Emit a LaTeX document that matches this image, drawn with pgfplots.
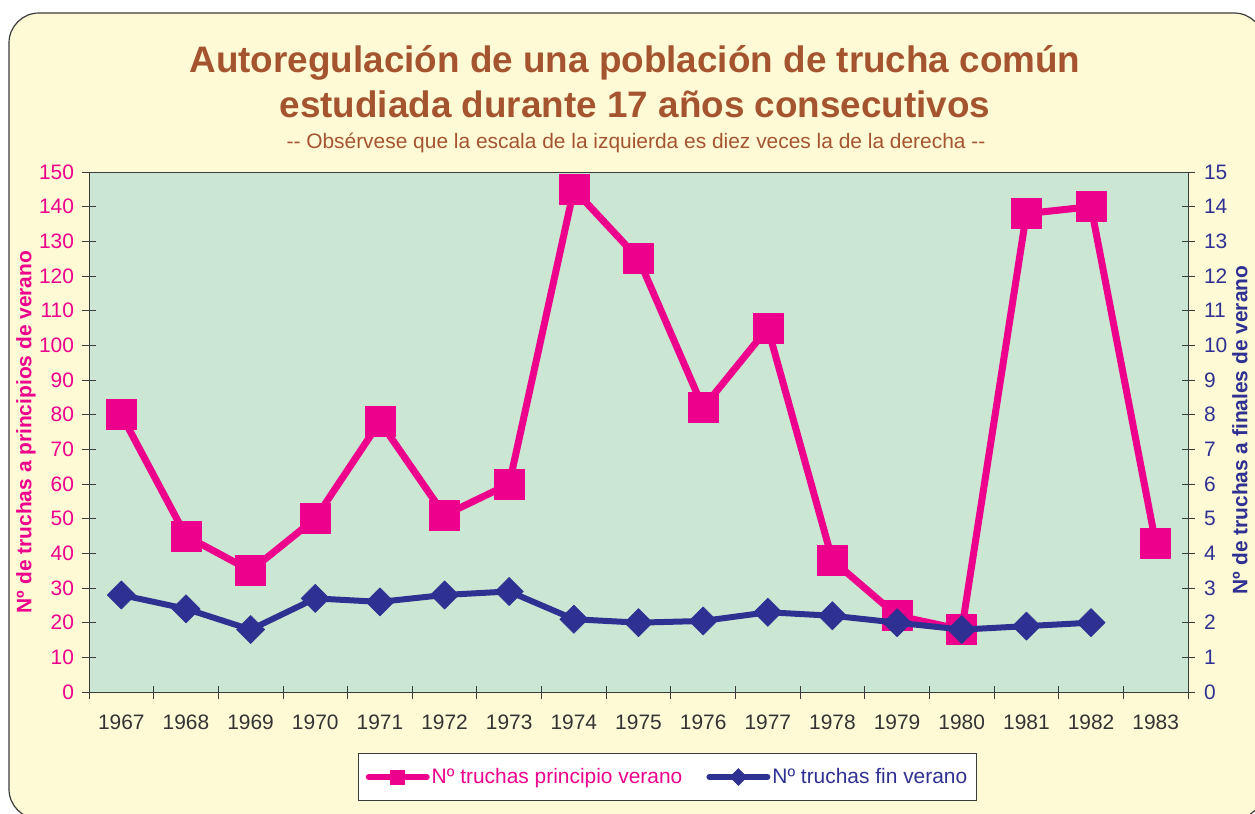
\documentclass[border=0pt]{standalone}
\usepackage{pgfplots}
\usepackage{pgfplotstable}
\pgfplotsset{compat=1.18}
\usepackage{fontspec}
\setmainfont{Liberation Sans}
\definecolor{bgc}{HTML}{FFFAD6}
\definecolor{plotbg}{HTML}{CCE6D4}
\definecolor{pinkc}{HTML}{EC008C}
\definecolor{bluec}{HTML}{2E3192}
\definecolor{titlec}{HTML}{A55430}
\definecolor{axisc}{HTML}{3C3C3C}
\definecolor{textc}{HTML}{333333}
\pgfplotstableread{
x y
0 80
1 45
2 35
3 50
4 78
5 51
6 60
7 145
8 125
9 82
10 105
11 38
12 22
13 18
14 138
15 140
16 43
}\pinkdata
\pgfplotstableread{
x y
0 2.8
1 2.4
2 1.8
3 2.7
4 2.6
5 2.8
6 2.9
7 2.1
8 2.0
9 2.05
10 2.3
11 2.2
12 2.0
13 1.8
14 1.9
15 2.0
}\bluedata
\pgfplotsset{
  common/.style={
    at={(89bp,-692bp)}, anchor=south west,
    width=1099bp, height=520bp, scale only axis,
    xmin=-0.5, xmax=16.5,
    /pgf/number format/assume math mode=true,
    tick align=center,
    major tick length=13bp, minor tick length=13bp,
    every tick/.style={draw=axisc, line width=0.8bp},
    axis line style={draw=axisc, line width=0.8bp},
    ticklabel style={font=\fontsize{21}{24}\selectfont},
  },
  pinkleg/.style={legend image code/.code={\draw[##1, line width=6bp, line cap=round, mark size=7bp, mark repeat=2, mark phase=2] plot coordinates {(0bp,0bp) (29bp,0bp) (58bp,0bp)};}},
  blueleg/.style={legend image code/.code={\draw[##1, line width=6bp, line cap=round, mark size=6bp, mark repeat=2, mark phase=2] plot coordinates {(0bp,0bp) (29bp,0bp) (58bp,0bp)};}},
}
\begin{document}
\begin{tikzpicture}
\useasboundingbox (0,0) rectangle (1255bp,-814bp);
\begin{scope}
\clip (0,0) rectangle (1255bp,-814bp);
\draw[rounded corners=30bp, draw=axisc, line width=1.2bp, fill=bgc] (9bp,-13bp) rectangle (1264bp,-819bp);
\end{scope}
\node[font=\fontsize{37}{44}\selectfont\bfseries, text=titlec] at (635bp,-63bp) {Autoregulación de una población de trucha común};
\node[font=\fontsize{37}{44}\selectfont\bfseries, text=titlec] at (635bp,-104bp) {estudiada durante 17 años consecutivos};
\node[font=\fontsize{21}{24}\selectfont, text=titlec] at (636bp,-143bp) {-{}- Obsérvese que la escala de la izquierda es diez veces la de la derecha -{}-};
\node[rotate=90, font=\fontsize{21}{24}\selectfont\bfseries, text=pinkc] at (26bp,-432bp) {Nº de truchas a principios de verano};
\node[rotate=90, font=\fontsize{21}{24}\selectfont\bfseries, text=bluec] at (1240bp,-430bp) {Nº de truchas a finales de verano};
\begin{axis}[common,
  ymin=0, ymax=150,
  axis background/.style={fill=plotbg},
  ytick={0,10,...,150},
  ytick pos=left, xtick pos=bottom,
  yticklabel style={text=pinkc, xshift=-5bp},
  xtick={0,...,16},
  xticklabels={1967,1968,1969,1970,1971,1972,1973,1974,1975,1976,1977,1978,1979,1980,1981,1982,1983},
  xticklabel style={text=textc, yshift=-13bp},
  major x tick style={draw=none},
  minor xtick={-0.5,0.5,...,16.5},
  legend columns=2,
  legend style={at={(0.5264,-0.1635)}, anchor=center, draw=axisc, line width=0.8bp, fill=white,
    font=\fontsize{21}{24}\selectfont, inner xsep=7bp, inner ysep=13bp,
    nodes={inner xsep=2bp},
    /tikz/every even column/.append style={column sep=22bp}},
  legend cell align=left,
]
\addplot[pinkc, line width=7bp, line join=round, mark=square*, mark size=15bp, mark options={line width=0.5bp}, pinkleg]
  table[x=x,y=y] {\pinkdata};
\addlegendentry{\textcolor{pinkc}{Nº truchas principio verano}}
\addlegendimage{bluec, line width=6bp, mark=square*, mark size=10bp, mark options={rotate=45, line width=0.5bp}, blueleg}
\addlegendentry{\textcolor{bluec}{Nº truchas fin verano}}
\end{axis}
\begin{axis}[common,
  ymin=0, ymax=15,
  axis x line=none,
  axis y line*=right,
  ytick={0,1,...,15},
  yticklabel style={text=bluec, xshift=6bp},
]
\addplot[bluec, line width=6bp, line join=round, mark=square*, mark size=10bp, mark options={rotate=45, line width=0.5bp}]
  table[x=x,y=y] {\bluedata};
\end{axis}
\end{tikzpicture}
\end{document}
